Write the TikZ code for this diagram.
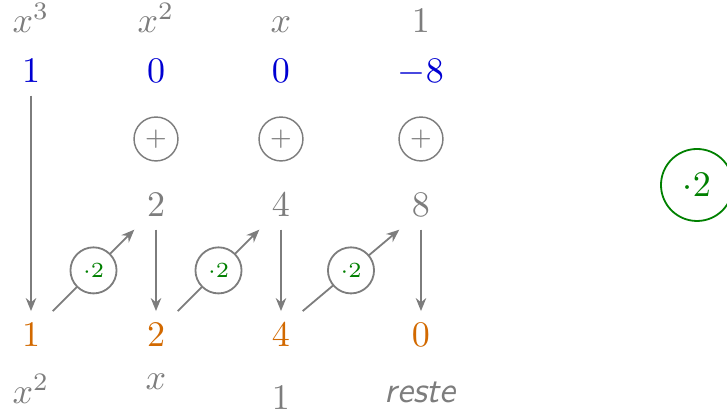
\documentclass[tikz,border=0pt]{standalone}
\usetikzlibrary{arrows.meta}
\definecolor{cblue}{RGB}{0,0,210}
\definecolor{corange}{RGB}{210,105,0}
\definecolor{cgreen}{RGB}{0,128,0}
\definecolor{cgray}{RGB}{125,125,125}
\begin{document}
\begin{tikzpicture}[x=0.27778pt,y=-0.27778pt,
  lbl/.style={anchor=base,text=cgray},
  coef/.style={anchor=base,text=cblue},
  res/.style={anchor=base,text=corange},
  plusc/.style={circle,draw=cgray,text=cgray,minimum size=12.2pt,inner sep=0pt,font=\scriptsize},
  mulc/.style={circle,draw=cgray,fill=white,minimum size=12.8pt,inner sep=0pt,text=cgreen,font=\fontsize{6}{7}\selectfont},
  arr/.style={draw=cgray,line width=0.5pt,-{Stealth[length=3.6pt,width=2.9pt]}}]
\useasboundingbox (0,0) rectangle (727,414);
% headers
\node[lbl] (h1) at (31,33) {$x^3$};
\node[lbl] (h2) at (156,33) {$x^2$};
\node[lbl] (h3) at (281,33) {$x$};
\node[lbl] (h4) at (421,33) {$1$};
% coefficients
\node[coef] (c1) at (31,83) {$1$};
\node[coef] (c2) at (156,83) {$0$};
\node[coef] (c3) at (281,83) {$0$};
\node[coef] (c4) at (421,83) {$-8$};
% plus circles
\node[plusc] (p2) at (156,139) {$+$};
\node[plusc] (p3) at (281,139) {$+$};
\node[plusc] (p4) at (421,139) {$+$};
% middle row
\node[lbl] (g2) at (156,217) {$2$};
\node[lbl] (g3) at (281,217) {$4$};
\node[lbl] (g4) at (421,217) {$8$};
% results
\node[res] (o1) at (31,347) {$1$};
\node[res] (o2) at (156,347) {$2$};
\node[res] (o3) at (281,347) {$4$};
\node[res] (o4) at (421,347) {$0$};
% bottom labels
\node[lbl] (b1) at (31,404) {$x^2$};
\node[lbl] (b2) at (156,390) {$x$};
\node[lbl] (b3) at (281,410) {$1$};
\node[lbl] (b4) at (421,403) {\textsf{\itshape reste}};
% vertical arrows
\draw[arr] (c1) -- (o1);
\draw[arr] (g2) -- (o2);
\draw[arr] (g3) -- (o3);
\draw[arr] (g4) -- (o4);
% diagonal arrows
\draw[arr] (o1.north east) -- node[mulc] (m1) {$\cdot2$} (g2.south west);
\draw[arr] (o2.north east) -- node[mulc] (m2) {$\cdot2$} (g3.south west);
\draw[arr] (o3.north east) -- node[mulc] (m3) {$\cdot2$} (g4.south west);
% big green circle
\node[circle,draw=cgreen,line width=0.5pt,text=cgreen,minimum size=20pt,inner sep=0pt] (m) at (697,185) {$\cdot2$};
\end{tikzpicture}
\end{document}
